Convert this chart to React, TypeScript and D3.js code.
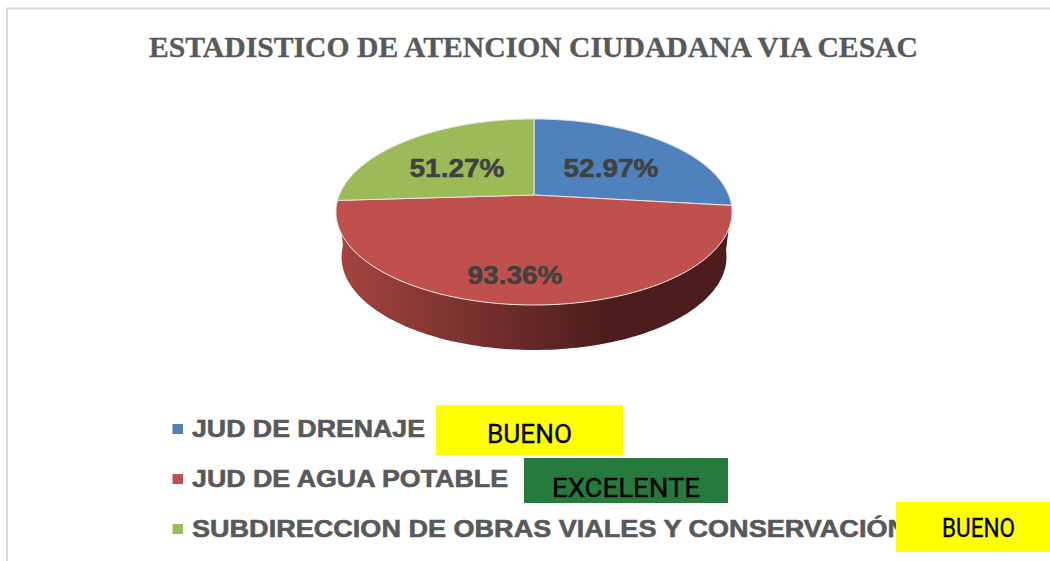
import React from "react";
import * as d3 from "d3";

const categories = ["JUD DE DRENAJE", "JUD DE AGUA POTABLE", "SUBDIRECCION DE OBRAS VIALES Y CONSERVACIÓN"];
const values = [52.97, 93.36, 51.27];
const labels = ["52.97%", "93.36%", "51.27%"];
const colors = ["#4f81bd", "#c0504d", "#9bbb59"];
const ratings = ["BUENO", "EXCELENTE", "BUENO"];
const ratingColors = ["#ffff00", "#267a3d", "#ffff00"];
const title = "ESTADISTICO DE ATENCION CIUDADANA VIA CESAC";

const labelPos = [[611, 177], [515, 284], [457, 177]];
const legendY = [437, 487, 537];
const legendW = [233, 316, 715];
const badges = [
  { x: 436, y: 405, w: 187, h: 50, tx: 487, tw: 85, ty: 443 },
  { x: 524, y: 458, w: 204, h: 45, tx: 552, tw: 148, ty: 497 },
  { x: 896, y: 502, w: 154, h: 50, tx: 942, tw: 73, ty: 537 },
];

const cx = 534, cy = 195, K = -0.1828, A = 89.9, B = 194.7;
const project = (a: number, dy = 0, sx = 1, sy = 1): [number, number] => {
  const x = Math.sin(a), y = -Math.cos(a);
  const w = 1 + K * y;
  return [cx + (sx * B * x) / w, cy + dy + (sy * A * y) / w];
};
const samples = (a0: number, a1: number) => d3.range(0, 121).map((i) => a0 + ((a1 - a0) * i) / 120);
const line = d3.line();

export default function App() {
  const arcs = d3.pie<number>().sort(null)(values);
  const red = arcs[1];
  const rimTop = samples(red.startAngle, red.endAngle).map((a) => project(a));
  const rimBot = samples(red.startAngle, red.endAngle).reverse().map((a) => project(a, 45, 0.972, 1));
  return (
    <svg width={1050} height={561} style={{ position: "fixed", left: 0, top: 0, background: "#fff" }}>
      <defs>
        <linearGradient id="side" gradientUnits="userSpaceOnUse" x1={340} x2={730} y1={0} y2={0}>
          <stop offset="0" stopColor="#a4443f" />
          <stop offset="0.68" stopColor="#4c1d1c" />
          <stop offset="1" stopColor="#4c1d1c" />
        </linearGradient>
      </defs>
      <path d="M7 561V8.500H1050" fill="none" stroke="#d9d9d9" strokeWidth={2} />
      <text x={533.5} y={57} textAnchor="middle" fontFamily="'Liberation Serif'" fontWeight={700} fontSize={30} fill="#595959" stroke="#595959" strokeWidth={0.3} textLength={769} lengthAdjust="spacingAndGlyphs">{title}</text>
      <path d={line([...rimTop, ...rimBot])! + "Z"} fill="url(#side)" />
      {arcs.map((d, i) => (
        <path key={i} d={line([[cx, cy], ...samples(d.startAngle, d.endAngle).map((a) => project(a))])! + "Z"} fill={colors[i]} stroke="#e8e4e0" strokeWidth={1} strokeLinejoin="round" />
      ))}
      {labels.map((l, i) => (
        <text key={l} x={labelPos[i][0]} y={labelPos[i][1]} textAnchor="middle" fontFamily="'Liberation Sans'" fontWeight={700} fontSize={25} fill="#404040" stroke="#404040" strokeWidth={0.5} textLength={95} lengthAdjust="spacingAndGlyphs">{l}</text>
      ))}
      {categories.map((c, i) => (
        <g key={c}>
          <rect x={172.500} y={legendY[i] - 13} width={10.500} height={10} fill={colors[i]} />
          <text x={192} y={legendY[i]} fontFamily="'Liberation Sans'" fontWeight={700} fontSize={24} fill="#595959" stroke="#595959" strokeWidth={0.6} textLength={legendW[i]} lengthAdjust="spacingAndGlyphs">{c}</text>
        </g>
      ))}
      {ratings.map((r, i) => {
        const b = badges[i];
        return (
          <g key={i}>
            <rect x={b.x} y={b.y} width={b.w} height={b.h} fill={ratingColors[i]} />
            <text x={b.tx} y={b.ty} fontFamily="Roboto" fontSize={26} fill="#000" stroke="#000" strokeWidth={0.3} textLength={b.tw} lengthAdjust="spacingAndGlyphs">{r}</text>
          </g>
        );
      })}
    </svg>
  );
}
